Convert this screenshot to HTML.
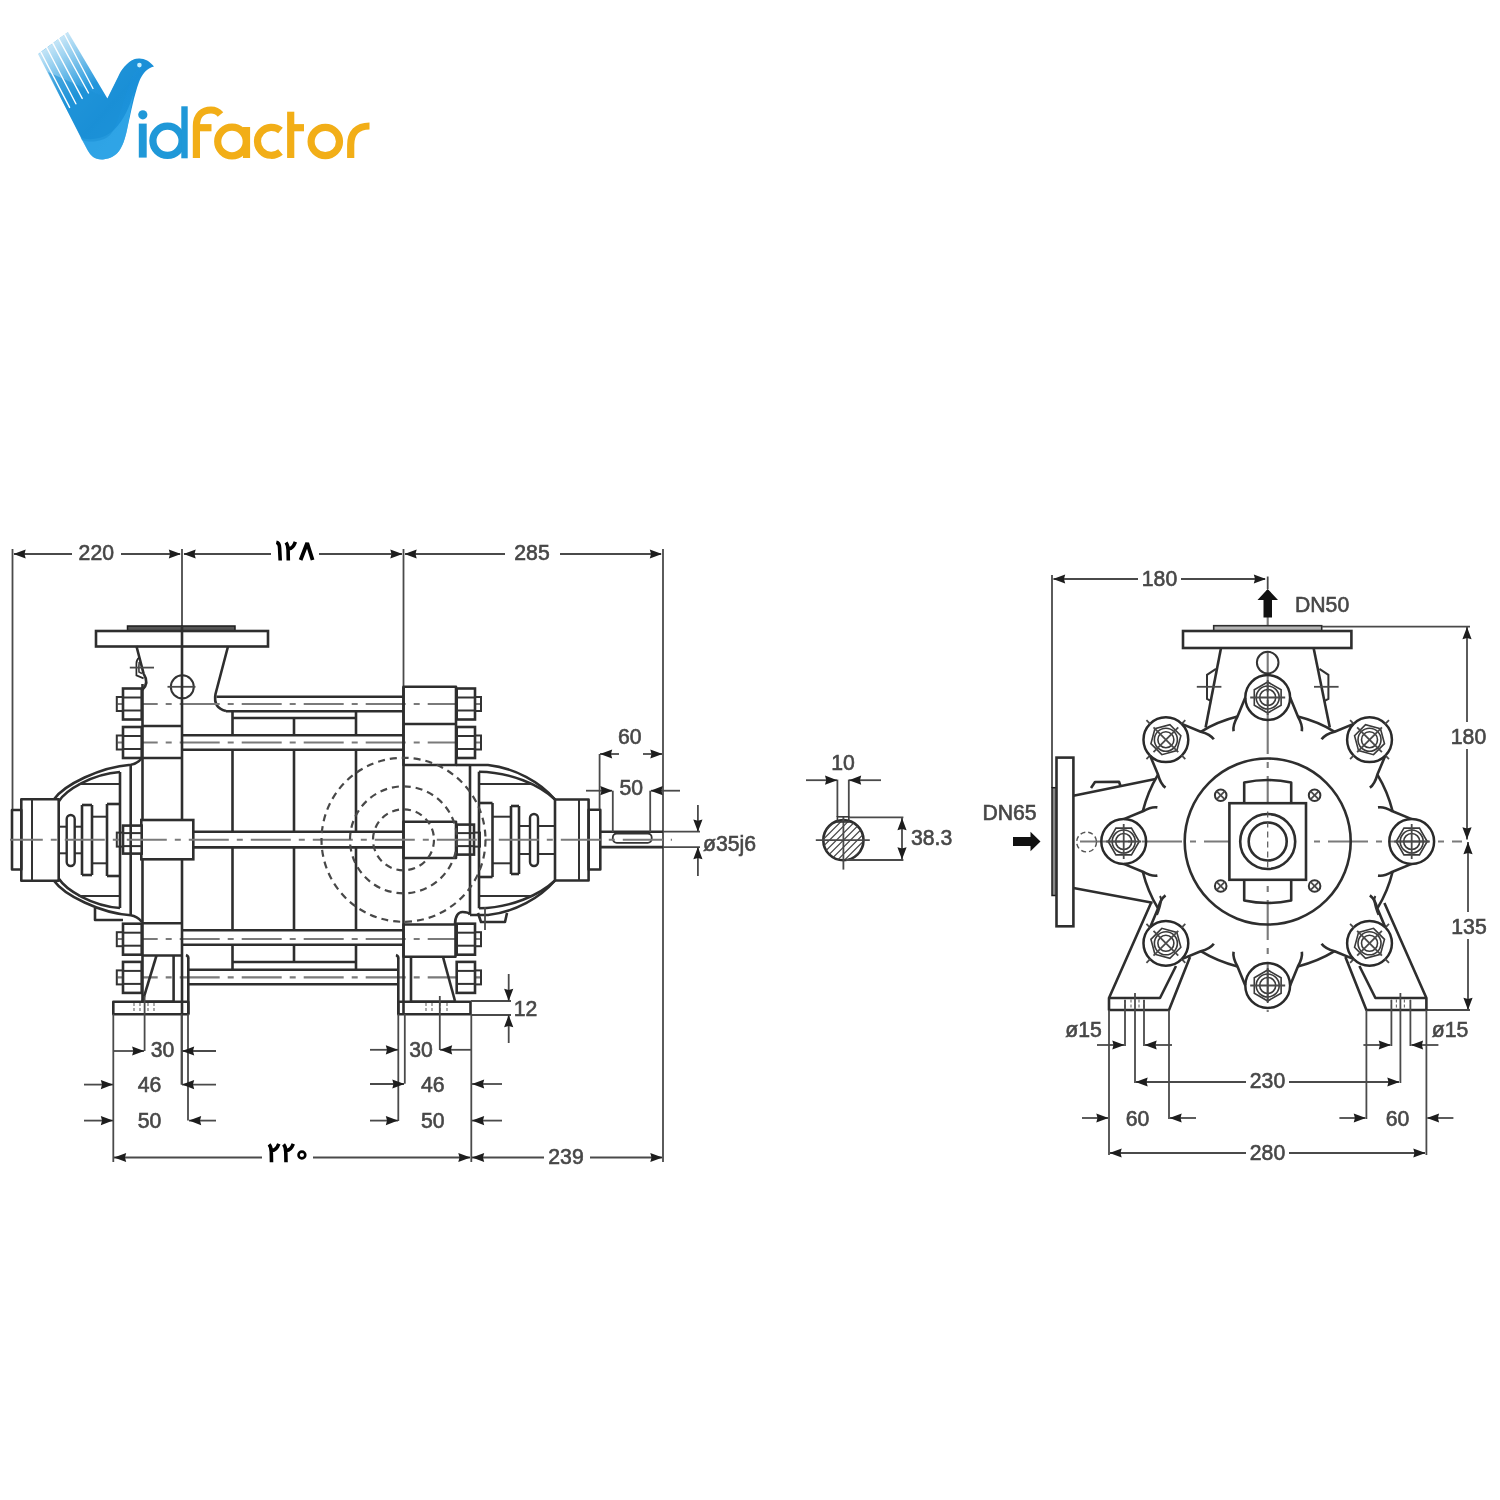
<!DOCTYPE html><html><head><meta charset="utf-8"><title>pump</title><style>
html,body{margin:0;padding:0;background:#fff;}
svg{display:block;will-change:transform}
.o{fill:none;stroke:#2e2e2e;stroke-width:2.6;stroke-linejoin:round}
.of{fill:#fff;stroke:#2e2e2e;stroke-width:2.6}
.o1{fill:none;stroke:#333;stroke-width:2.0}
.ob{fill:none;stroke:#2a2a2a;stroke-width:2.5}
.o2{fill:none;stroke:#2a2a2a;stroke-width:1.7}
.o3{fill:none;stroke:#3a3a3a;stroke-width:1.6}
.orr{fill:none;stroke:#2e2e2e;stroke-width:2.4;rx:4}
.orr2{fill:none;stroke:#333;stroke-width:1.8;rx:4}
.t{fill:none;stroke:#4a4a4a;stroke-width:1.8}
.c{fill:none;stroke:#7a7a7a;stroke-width:2.1;stroke-dasharray:40 8 6 8}
.c2{fill:none;stroke:#555;stroke-width:1.2;stroke-dasharray:6 4}
.h{fill:none;stroke:#484848;stroke-width:2.2;stroke-dasharray:7 5}
.h2{fill:none;stroke:#555;stroke-width:1.4;stroke-dasharray:5 3}
.hs{fill:none;stroke:#666;stroke-width:1.1;stroke-dasharray:3 2}
.hat{fill:none;stroke:#444;stroke-width:1.2}
.ar{fill:#1d1d1d;stroke:none}
.fill{fill:#555;stroke:#1d1d1d;stroke-width:1.5}
.fill3{fill:#b5b5b5;stroke:#2e2e2e;stroke-width:1.6}
.fill2{fill:#888;stroke:#1d1d1d;stroke-width:1.5}
.fillb{fill:#111;stroke:none}
.pers{fill:none;stroke:#000;stroke-width:3.6;stroke-linecap:butt;stroke-linejoin:miter}
.tx{font-family:"Liberation Sans",sans-serif;font-size:21.2px;fill:#474747;stroke:#474747;stroke-width:0.6}
</style></head><body><svg width="1500" height="1500" viewBox="0 0 1500 1500">
<line class="t" x1="12.5" y1="549" x2="12.5" y2="810"/>
<line class="t" x1="182" y1="549" x2="182" y2="626"/>
<line class="t" x1="403.5" y1="549" x2="403.5" y2="686.7"/>
<line class="t" x1="663" y1="549" x2="663" y2="1162"/>
<line class="t" x1="14" y1="554" x2="72" y2="554"/>
<line class="t" x1="121" y1="554" x2="180" y2="554"/>
<polygon class="ar" points="13.5,554 25.7,549.4 24.48,554 25.7,558.6"/>
<polygon class="ar" points="181,554 168.8,549.4 170.02,554 168.8,558.6"/>
<text class="tx" x="96.3" y="559.8" text-anchor="middle">220</text>
<line class="t" x1="184" y1="554" x2="271" y2="554"/>
<line class="t" x1="319" y1="554" x2="402" y2="554"/>
<polygon class="ar" points="183.5,554 195.7,549.4 194.48,554 195.7,558.6"/>
<polygon class="ar" points="402.5,554 390.3,549.4 391.52,554 390.3,558.6"/>
<line class="t" x1="405" y1="554" x2="505" y2="554"/>
<line class="t" x1="560" y1="554" x2="661" y2="554"/>
<polygon class="ar" points="404.5,554 416.7,549.4 415.48,554 416.7,558.6"/>
<polygon class="ar" points="662,554 649.8,549.4 651.02,554 649.8,558.6"/>
<text class="tx" x="532" y="559.8" text-anchor="middle">285</text>
<rect class="fill" x="127.5" y="626" width="107.5" height="5"/>
<rect class="of" x="96" y="631" width="172" height="15.5"/>
<path class="o" d="M136.4,646 L143.6,673.6 Q149.5,683 142.4,689.8"/>
<path class="o" d="M228,646.5 L215.5,694 Q213,708 226,711"/>
<path class="o2" d="M139.4,657.4 Q136.3,659.5 136.4,663.5 L136.4,675.4 L143.6,678.4"/>
<path class="o3" d="M139.2,662 Q138.6,667 139,672 L142,673.5"/>
<line class="t" x1="129.8" y1="667.6" x2="154" y2="667.6"/>
<circle class="o1" cx="182.3" cy="686.8" r="11.5"/>
<line class="t" x1="167.5" y1="686.8" x2="195.5" y2="686.8"/>
<line class="o" x1="216.5" y1="696.8" x2="403.5" y2="696.8"/>
<line class="o" x1="226" y1="711.2" x2="403.5" y2="711.2"/>
<line class="o" x1="182" y1="735.3" x2="403.5" y2="735.3"/>
<line class="o" x1="182" y1="749.7" x2="403.5" y2="749.7"/>
<line class="o" x1="193.3" y1="831.8" x2="403.5" y2="831.8"/>
<line class="o" x1="193.3" y1="847.4" x2="403.5" y2="847.4"/>
<line class="o" x1="182" y1="930.3" x2="403.5" y2="930.3"/>
<line class="o" x1="182" y1="944.7" x2="403.5" y2="944.7"/>
<line class="o" x1="188" y1="969.8" x2="397" y2="969.8"/>
<line class="o" x1="188" y1="984.2" x2="397" y2="984.2"/>
<line class="c" x1="112" y1="704" x2="489" y2="704" stroke-dashoffset="56.3"/>
<line class="c" x1="112" y1="742.5" x2="489" y2="742.5" stroke-dashoffset="56.3"/>
<line class="c" x1="112" y1="939" x2="489" y2="939" stroke-dashoffset="56.3"/>
<line class="c" x1="112" y1="977.4" x2="489" y2="977.4" stroke-dashoffset="56.3"/>
<line class="o" x1="232.5" y1="711.2" x2="232.5" y2="735.3"/>
<line class="o" x1="232.5" y1="749.7" x2="232.5" y2="831.8"/>
<line class="o" x1="232.5" y1="847.4" x2="232.5" y2="930.3"/>
<line class="o" x1="232.5" y1="944.7" x2="232.5" y2="969.8"/>
<line class="o" x1="356" y1="711.2" x2="356" y2="735.3"/>
<line class="o" x1="356" y1="749.7" x2="356" y2="831.8"/>
<line class="o" x1="356" y1="847.4" x2="356" y2="930.3"/>
<line class="o" x1="356" y1="944.7" x2="356" y2="969.8"/>
<line class="o" x1="294" y1="718" x2="294" y2="735.3"/>
<line class="o" x1="294" y1="749.7" x2="294" y2="831.8"/>
<line class="o" x1="294" y1="847.4" x2="294" y2="930.3"/>
<line class="o" x1="294" y1="944.7" x2="294" y2="962"/>
<line class="o" x1="232.5" y1="718" x2="356" y2="718"/>
<line class="o" x1="232.5" y1="962" x2="356" y2="962"/>
<line class="o" x1="142.5" y1="684" x2="142.5" y2="1001.7"/>
<line class="o" x1="182" y1="626" x2="182" y2="1014.2"/>
<line class="t" x1="182" y1="1014.2" x2="182" y2="1084.6"/>
<line class="o" x1="403.5" y1="686.7" x2="403.5" y2="1014.2"/>
<line class="o" x1="142.5" y1="726" x2="182" y2="726"/>
<line class="o" x1="142.5" y1="758" x2="182" y2="758"/>
<line class="o" x1="142.5" y1="923.2" x2="182" y2="923.2"/>
<line class="o" x1="142.5" y1="955.5" x2="182" y2="955.5"/>
<rect class="of" x="141.3" y="820" width="52" height="39.3"/>
<rect class="of" x="123" y="688.5" width="18.7" height="31"/>
<line class="o1" x1="123" y1="697.5" x2="141.7" y2="697.5"/>
<line class="o1" x1="123" y1="710.5" x2="141.7" y2="710.5"/>
<rect class="o1" x="116.8" y="697" width="6.2" height="14"/>
<rect class="of" x="123" y="727" width="18.7" height="31"/>
<line class="o1" x1="123" y1="736" x2="141.7" y2="736"/>
<line class="o1" x1="123" y1="749" x2="141.7" y2="749"/>
<rect class="o1" x="116.8" y="735.5" width="6.2" height="14"/>
<rect class="of" x="123" y="923.7" width="18.7" height="31"/>
<line class="o1" x1="123" y1="932.7" x2="141.7" y2="932.7"/>
<line class="o1" x1="123" y1="945.7" x2="141.7" y2="945.7"/>
<rect class="o1" x="116.8" y="932.2" width="6.2" height="14"/>
<rect class="of" x="123" y="961.9" width="18.7" height="31"/>
<line class="o1" x1="123" y1="970.9" x2="141.7" y2="970.9"/>
<line class="o1" x1="123" y1="983.9" x2="141.7" y2="983.9"/>
<rect class="o1" x="116.8" y="970.4" width="6.2" height="14"/>
<rect class="of" x="123" y="825.6" width="18.7" height="28"/>
<line class="o1" x1="123" y1="833.1" x2="141.7" y2="833.1"/>
<line class="o1" x1="123" y1="846.1" x2="141.7" y2="846.1"/>
<rect class="o1" x="116.8" y="832.6" width="6.2" height="14"/>
<path class="o" d="M54,799.3 C64,785 100,767 130.7,764.7 Q137,764 142,758"/>
<path class="o" d="M58.7,801.5 C66,790 92,774 120,772"/>
<line class="o1" x1="78.7" y1="784" x2="120" y2="784"/>
<line class="o" x1="82" y1="805" x2="92" y2="805"/>
<line class="o" x1="107" y1="804" x2="120" y2="804"/>
<line class="o1" x1="92" y1="816.7" x2="107" y2="816.7"/>
<line class="o1" x1="58.7" y1="826.7" x2="67" y2="826.7"/>
<line class="o1" x1="74.5" y1="826.7" x2="82" y2="826.7"/>
<path class="o" d="M54,880.7 C64,895 100,913 130.7,915.3 Q137,916 142,922"/>
<path class="o" d="M58.7,878.5 C66,890 92,906 120,908"/>
<line class="o1" x1="78.7" y1="896" x2="120" y2="896"/>
<line class="o" x1="82" y1="875" x2="92" y2="875"/>
<line class="o" x1="107" y1="876" x2="120" y2="876"/>
<line class="o1" x1="92" y1="863.3" x2="107" y2="863.3"/>
<line class="o1" x1="58.7" y1="853.3" x2="67" y2="853.3"/>
<line class="o1" x1="74.5" y1="853.3" x2="82" y2="853.3"/>
<line class="o" x1="120" y1="772" x2="120" y2="908"/>
<line class="o" x1="130.7" y1="764.7" x2="130.7" y2="915.3"/>
<rect class="o" x="21.3" y="799.3" width="37.4" height="81.4"/>
<line class="o1" x1="32" y1="799.3" x2="32" y2="880.7"/>
<rect class="o" x="12" y="810" width="9.3" height="59.5"/>
<rect class="orr" x="66.7" y="815" width="8" height="51"/>
<line class="o" x1="82" y1="805" x2="82" y2="875"/>
<line class="o" x1="92" y1="805" x2="92" y2="875"/>
<line class="o" x1="107" y1="804" x2="107" y2="876"/>
<path class="o" d="M95,908 L95,920 L123,920"/>
<rect class="o" x="403.5" y="686.7" width="52.5" height="78.3"/>
<line class="o" x1="403.5" y1="724" x2="456" y2="724"/>
<line class="o" x1="456" y1="765" x2="470" y2="765"/>
<rect class="o" x="403.5" y="821.7" width="52.5" height="36.3"/>
<rect class="o" x="403.5" y="924.5" width="52" height="32.2"/>
<path class="o" d="M455,924.5 C455,916 458.5,912 462.5,912 C466.5,912 469,913 470,914.5"/>
<rect class="of" x="456.7" y="688.5" width="18.3" height="31"/>
<line class="o1" x1="456.7" y1="697.5" x2="475" y2="697.5"/>
<line class="o1" x1="456.7" y1="710.5" x2="475" y2="710.5"/>
<rect class="o1" x="475" y="697" width="6" height="14"/>
<rect class="of" x="456.7" y="727" width="18.3" height="31"/>
<line class="o1" x1="456.7" y1="736" x2="475" y2="736"/>
<line class="o1" x1="456.7" y1="749" x2="475" y2="749"/>
<rect class="o1" x="475" y="735.5" width="6" height="14"/>
<rect class="of" x="456.7" y="923.7" width="18.3" height="31"/>
<line class="o1" x1="456.7" y1="932.7" x2="475" y2="932.7"/>
<line class="o1" x1="456.7" y1="945.7" x2="475" y2="945.7"/>
<rect class="o1" x="475" y="932.2" width="6" height="14"/>
<rect class="of" x="456.7" y="961.9" width="18.3" height="31"/>
<line class="o1" x1="456.7" y1="970.9" x2="475" y2="970.9"/>
<line class="o1" x1="456.7" y1="983.9" x2="475" y2="983.9"/>
<rect class="o1" x="475" y="970.4" width="6" height="14"/>
<rect class="of" x="456.7" y="824.6" width="17.3" height="30"/>
<line class="o1" x1="456.7" y1="833.1" x2="474" y2="833.1"/>
<line class="o1" x1="456.7" y1="846.1" x2="474" y2="846.1"/>
<rect class="o1" x="474" y="832.6" width="6" height="14"/>
<path class="o" d="M470,765 L488,765 C515,768 540,782 555,799.5"/>
<path class="o" d="M479,771.7 C510,772 540,785 555,799.5"/>
<line class="o1" x1="479" y1="784" x2="533" y2="784"/>
<line class="o" x1="479" y1="803" x2="492.5" y2="803"/>
<line class="o" x1="511" y1="806" x2="519" y2="806"/>
<line class="o1" x1="492.5" y1="816.7" x2="511" y2="816.7"/>
<line class="o1" x1="519" y1="826" x2="530" y2="826"/>
<line class="o1" x1="538" y1="826" x2="555" y2="826"/>
<path class="o" d="M470,915 L488,915 C515,912 540,898 555,880.5"/>
<path class="o" d="M479,908.3 C510,908 540,895 555,880.5"/>
<line class="o1" x1="479" y1="896" x2="533" y2="896"/>
<line class="o" x1="479" y1="877" x2="492.5" y2="877"/>
<line class="o" x1="511" y1="874" x2="519" y2="874"/>
<line class="o1" x1="492.5" y1="863.3" x2="511" y2="863.3"/>
<line class="o1" x1="519" y1="854" x2="530" y2="854"/>
<line class="o1" x1="538" y1="854" x2="555" y2="854"/>
<line class="o" x1="470" y1="765" x2="470" y2="914.5"/>
<line class="o" x1="479" y1="771.7" x2="479" y2="908.3"/>
<line class="o" x1="492.5" y1="803" x2="492.5" y2="877"/>
<line class="o" x1="511" y1="806" x2="511" y2="874"/>
<line class="o" x1="519" y1="806" x2="519" y2="874"/>
<rect class="orr" x="530" y="814" width="8" height="52"/>
<rect class="o" x="555" y="799.5" width="33.6" height="81"/>
<line class="o1" x1="579" y1="799.5" x2="579" y2="880.5"/>
<rect class="o" x="588.6" y="809.7" width="11.7" height="59.8"/>
<path class="o" d="M478,913 L481,922 L505,922 L507,913"/>
<line class="t" x1="485" y1="907" x2="485" y2="930"/>
<line class="o" x1="600.3" y1="831.7" x2="663" y2="831.7"/>
<line class="o" x1="600.3" y1="847.1" x2="663" y2="847.1"/>
<line class="t" x1="663" y1="831.7" x2="700" y2="831.7"/>
<line class="t" x1="663" y1="847.1" x2="700" y2="847.1"/>
<rect class="orr2" x="612.8" y="833.5" width="38.9" height="9.3"/>
<line class="c" x1="10" y1="839.8" x2="672" y2="839.8" stroke-dashoffset="7.2"/>
<circle class="h" cx="403.5" cy="839.8" r="82"/>
<circle class="h" cx="403.5" cy="839.8" r="53.5"/>
<circle class="h" cx="403.5" cy="839.8" r="30.5"/>
<rect class="o" x="113.3" y="1001.7" width="75" height="12.5"/>
<path class="o" d="M156.5,955.5 L142.5,1001.7"/>
<line class="o" x1="173.6" y1="955.5" x2="173.6" y2="1001.7"/>
<line class="o" x1="142.5" y1="1001.7" x2="173.6" y2="1001.7"/>
<path class="o" d="M186,955 Q189,956 188.3,960 L188.3,1014.2"/>
<line class="hs" x1="134" y1="1003" x2="134" y2="1013"/>
<line class="hs" x1="140" y1="1003" x2="140" y2="1013"/>
<line class="hs" x1="148" y1="1003" x2="148" y2="1013"/>
<line class="hs" x1="154" y1="1003" x2="154" y2="1013"/>
<rect class="o" x="398.3" y="1001.7" width="72.2" height="12.5"/>
<line class="o" x1="411" y1="957" x2="411" y2="1001.7"/>
<line class="o" x1="411" y1="1001.7" x2="455" y2="1001.7"/>
<path class="o" d="M443,957 L455,1001"/>
<path class="o" d="M396,955 Q399,956 398.3,960 L398.3,1014.2"/>
<line class="hs" x1="426" y1="1003" x2="426" y2="1013"/>
<line class="hs" x1="432" y1="1003" x2="432" y2="1013"/>
<line class="hs" x1="440" y1="1003" x2="440" y2="1013"/>
<line class="hs" x1="447" y1="1003" x2="447" y2="1013"/>
<line class="t" x1="113.3" y1="1014" x2="113.3" y2="1162"/>
<line class="t" x1="144.6" y1="996" x2="144.6" y2="1051"/>
<line class="t" x1="181.5" y1="1014" x2="181.5" y2="1084.6"/>
<line class="t" x1="188" y1="1014" x2="188" y2="1120.6"/>
<line class="t" x1="114" y1="1051" x2="144" y2="1051"/>
<polygon class="ar" points="144.3,1051 132.1,1046.4 133.32,1051 132.1,1055.6"/>
<line class="t" x1="182" y1="1051" x2="216" y2="1051"/>
<polygon class="ar" points="182,1051 194.2,1046.4 192.98,1051 194.2,1055.6"/>
<text class="tx" x="162.5" y="1057.2" text-anchor="middle">30</text>
<line class="t" x1="84" y1="1084.6" x2="113" y2="1084.6"/>
<polygon class="ar" points="113,1084.6 100.8,1080 102.02,1084.6 100.8,1089.2"/>
<line class="t" x1="182" y1="1084.6" x2="216" y2="1084.6"/>
<polygon class="ar" points="182,1084.6 194.2,1080 192.98,1084.6 194.2,1089.2"/>
<text class="tx" x="149.5" y="1092" text-anchor="middle">46</text>
<line class="t" x1="84" y1="1120.6" x2="113" y2="1120.6"/>
<polygon class="ar" points="113,1120.6 100.8,1116 102.02,1120.6 100.8,1125.2"/>
<line class="t" x1="189" y1="1120.6" x2="216" y2="1120.6"/>
<polygon class="ar" points="189,1120.6 201.2,1116 199.98,1120.6 201.2,1125.2"/>
<text class="tx" x="149.5" y="1128" text-anchor="middle">50</text>
<line class="t" x1="114" y1="1157.5" x2="262" y2="1157.5"/>
<line class="t" x1="313" y1="1157.5" x2="470" y2="1157.5"/>
<polygon class="ar" points="114,1157.5 126.2,1152.9 124.98,1157.5 126.2,1162.1"/>
<polygon class="ar" points="470.5,1157.5 458.3,1152.9 459.52,1157.5 458.3,1162.1"/>
<line class="t" x1="472" y1="1157.5" x2="544" y2="1157.5"/>
<line class="t" x1="590" y1="1157.5" x2="662" y2="1157.5"/>
<polygon class="ar" points="472,1157.5 484.2,1152.9 482.98,1157.5 484.2,1162.1"/>
<polygon class="ar" points="662.5,1157.5 650.3,1152.9 651.52,1157.5 650.3,1162.1"/>
<text class="tx" x="566" y="1164" text-anchor="middle">239</text>
<line class="t" x1="398.3" y1="1014" x2="398.3" y2="1121"/>
<line class="t" x1="404.8" y1="1014" x2="404.8" y2="1083.7"/>
<line class="t" x1="439.8" y1="996" x2="439.8" y2="1050"/>
<line class="t" x1="471.3" y1="1014" x2="471.3" y2="1162"/>
<line class="t" x1="370" y1="1049.8" x2="398" y2="1049.8"/>
<polygon class="ar" points="398,1049.8 385.8,1045.2 387.02,1049.8 385.8,1054.4"/>
<line class="t" x1="440" y1="1049.8" x2="471" y2="1049.8"/>
<polygon class="ar" points="440,1049.8 452.2,1045.2 450.98,1049.8 452.2,1054.4"/>
<text class="tx" x="421" y="1056.8" text-anchor="middle">30</text>
<line class="t" x1="370" y1="1084" x2="404" y2="1084"/>
<polygon class="ar" points="404.5,1084 392.3,1079.4 393.52,1084 392.3,1088.6"/>
<line class="t" x1="472" y1="1084" x2="502" y2="1084"/>
<polygon class="ar" points="472,1084 484.2,1079.4 482.98,1084 484.2,1088.6"/>
<text class="tx" x="432.7" y="1092" text-anchor="middle">46</text>
<line class="t" x1="370" y1="1120.6" x2="398" y2="1120.6"/>
<polygon class="ar" points="398,1120.6 385.8,1116 387.02,1120.6 385.8,1125.2"/>
<line class="t" x1="472" y1="1120.6" x2="502" y2="1120.6"/>
<polygon class="ar" points="472,1120.6 484.2,1116 482.98,1120.6 484.2,1125.2"/>
<text class="tx" x="432.7" y="1128" text-anchor="middle">50</text>
<line class="t" x1="471" y1="1001" x2="511" y2="1001"/>
<line class="t" x1="471" y1="1015" x2="511" y2="1015"/>
<line class="t" x1="508.7" y1="974" x2="508.7" y2="1001"/>
<polygon class="ar" points="508.7,1001 504.1,988.8 508.7,990.02 513.3,988.8"/>
<line class="t" x1="508.7" y1="1015" x2="508.7" y2="1043"/>
<polygon class="ar" points="508.7,1015 504.1,1027.2 508.7,1025.98 513.3,1027.2"/>
<text class="tx" x="525.5" y="1016" text-anchor="middle">12</text>
<line class="t" x1="599.6" y1="754" x2="599.6" y2="809"/>
<line class="t" x1="612.8" y1="790.7" x2="612.8" y2="832"/>
<line class="t" x1="650.2" y1="790.7" x2="650.2" y2="832"/>
<line class="t" x1="600" y1="754" x2="619" y2="754"/>
<polygon class="ar" points="600,754 612.2,749.4 610.98,754 612.2,758.6"/>
<line class="t" x1="643" y1="754" x2="662" y2="754"/>
<polygon class="ar" points="662.5,754 650.3,749.4 651.52,754 650.3,758.6"/>
<text class="tx" x="629.7" y="743.7" text-anchor="middle">60</text>
<line class="t" x1="586" y1="790.7" x2="612" y2="790.7"/>
<polygon class="ar" points="612.5,790.7 600.3,786.1 601.52,790.7 600.3,795.3"/>
<line class="t" x1="651" y1="790.7" x2="680" y2="790.7"/>
<polygon class="ar" points="650.5,790.7 662.7,786.1 661.48,790.7 662.7,795.3"/>
<text class="tx" x="631.3" y="794.5" text-anchor="middle">50</text>
<line class="t" x1="697.9" y1="805" x2="697.9" y2="831.7"/>
<polygon class="ar" points="697.9,831.7 693.3,819.5 697.9,820.72 702.5,819.5"/>
<line class="t" x1="697.9" y1="847.1" x2="697.9" y2="876"/>
<polygon class="ar" points="697.9,847.1 693.3,859.3 697.9,858.08 702.5,859.3"/>
<text class="tx" x="703" y="851" text-anchor="start">ø35j6</text>
<circle class="o" cx="843.4" cy="840.2" r="20.1"/>
<clipPath id="kc"><circle cx="843.4" cy="840.2" r="20"/></clipPath>
<path class="hat" clip-path="url(#kc)" d="M783.4,865.2 L833.4,815.2 M790.4,865.2 L840.4,815.2 M797.4,865.2 L847.4,815.2 M804.4,865.2 L854.4,815.2 M811.4,865.2 L861.4,815.2 M818.4,865.2 L868.4,815.2 M825.4,865.2 L875.4,815.2 M832.4,865.2 L882.4,815.2 M839.4,865.2 L889.4,815.2 M846.4,865.2 L896.4,815.2 M853.4,865.2 L903.4,815.2"/>
<line class="t" x1="815.8" y1="840.2" x2="869.8" y2="840.2"/>
<line class="t" x1="843.4" y1="816.8" x2="843.4" y2="869.6"/>
<line class="t" x1="837.4" y1="779.6" x2="837.4" y2="817"/>
<line class="t" x1="848.8" y1="779.6" x2="848.8" y2="817"/>
<rect class="o3" x="837.4" y="816.8" width="11.4" height="5.2"/>
<line class="t" x1="806" y1="780.2" x2="837" y2="780.2"/>
<polygon class="ar" points="837.2,780.2 825,775.6 826.22,780.2 825,784.8"/>
<line class="t" x1="849" y1="780.2" x2="881" y2="780.2"/>
<polygon class="ar" points="849,780.2 861.2,775.6 859.98,780.2 861.2,784.8"/>
<text class="tx" x="843" y="770" text-anchor="middle">10</text>
<line class="t" x1="849" y1="817.4" x2="903.4" y2="817.4"/>
<line class="t" x1="846" y1="860" x2="903.4" y2="860"/>
<line class="t" x1="902" y1="818" x2="902" y2="860"/>
<polygon class="ar" points="902,818 897.4,830.2 902,828.98 906.6,830.2"/>
<polygon class="ar" points="902,859.5 897.4,847.3 902,848.52 906.6,847.3"/>
<text class="tx" x="911" y="845" text-anchor="start">38.3</text>
<line class="c" x1="1080" y1="841.5" x2="1462" y2="841.5"/>
<line class="c" x1="1267.7" y1="590" x2="1267.7" y2="1012"/>
<rect class="fill3" x="1213.7" y="625.7" width="108" height="5.3"/>
<line class="t" x1="1267.7" y1="576.5" x2="1267.7" y2="589"/>
<rect class="of" x="1183" y="631" width="168.4" height="17"/>
<line class="o" x1="1221" y1="648" x2="1205.6" y2="727.4"/>
<line class="o" x1="1313.6" y1="648" x2="1329.8" y2="727.4"/>
<circle class="o1" cx="1267.7" cy="662.6" r="10.8"/>
<path class="o1" d="M1216,668.8 L1207,674.8 L1207,698.8 L1211.2,701.2"/>
<line class="t" x1="1196.8" y1="686.8" x2="1221.4" y2="686.8"/>
<path class="o1" d="M1319.4,668.8 L1328.4,674.8 L1328.4,698.8 L1324.2,701.2"/>
<line class="t" x1="1338.6" y1="686.8" x2="1314" y2="686.8"/>
<polygon class="fillb" points="1267.7,589 1257.5,600 1263.5,600 1263.5,617.5 1272,617.5 1272,600 1278,600"/>
<text class="tx" x="1295" y="612" text-anchor="start">DN50</text>
<line class="t" x1="1052" y1="575" x2="1052" y2="787.7"/>
<line class="t" x1="1053.5" y1="579" x2="1138" y2="579"/>
<line class="t" x1="1181" y1="579" x2="1265" y2="579"/>
<polygon class="ar" points="1053,579 1065.2,574.4 1063.98,579 1065.2,583.6"/>
<polygon class="ar" points="1266,579 1253.8,574.4 1255.02,579 1253.8,583.6"/>
<text class="tx" x="1159.5" y="585.8" text-anchor="middle">180</text>
<line class="t" x1="1322" y1="626.6" x2="1470" y2="626.6"/>
<line class="t" x1="1467" y1="627" x2="1467" y2="722"/>
<line class="t" x1="1467" y1="749" x2="1467" y2="839.5"/>
<polygon class="ar" points="1467,627 1462.4,639.2 1467,637.98 1471.6,639.2"/>
<polygon class="ar" points="1467,839.5 1462.4,827.3 1467,828.52 1471.6,827.3"/>
<text class="tx" x="1468.5" y="743.5" text-anchor="middle">180</text>
<line class="t" x1="1468" y1="842" x2="1468" y2="912"/>
<line class="t" x1="1468" y1="939" x2="1468" y2="1010"/>
<polygon class="ar" points="1468,842 1463.4,854.2 1468,852.98 1472.6,854.2"/>
<polygon class="ar" points="1468,1010 1463.4,997.8 1468,999.02 1472.6,997.8"/>
<text class="tx" x="1469" y="933.5" text-anchor="middle">135</text>
<line class="t" x1="1426" y1="1010" x2="1470" y2="1010"/>
<rect class="fill2" x="1052" y="787.7" width="5" height="107.8"/>
<rect class="of" x="1056.5" y="757.6" width="16.9" height="168.7"/>
<line class="o" x1="1073.4" y1="795.7" x2="1155.5" y2="778.9"/>
<line class="o" x1="1073.4" y1="888" x2="1152.6" y2="902.8"/>
<path class="o" d="M1091,787.9 L1095,782 L1119,781.7 L1120.5,786"/>
<circle class="h2" cx="1086.6" cy="842" r="9.9"/>
<text class="tx" x="1009.5" y="820" text-anchor="middle">DN65</text>
<polygon class="fillb" points="1040.5,841.4 1030.5,831.7 1030.5,837 1013,837 1013,846 1030.5,846 1030.5,851.2"/>
<circle class="o" cx="1267.7" cy="841.5" r="83"/>
<rect class="of" x="1229.4" y="803.2" width="76.6" height="76.6"/>
<circle class="o" cx="1267.7" cy="841.5" r="27.5"/>
<circle class="o" cx="1267.7" cy="841.5" r="19"/>
<path class="o" d="M1244.2,803.2 L1244.2,782.5 Q1267.7,777.5 1291.2,782.5 L1291.2,803.2"/>
<path class="o" d="M1244.2,879.8 L1244.2,900.5 Q1267.7,905.5 1291.2,900.5 L1291.2,879.8"/>
<circle class="o1" cx="1220.7" cy="795.3" r="5.8"/>
<line class="t" x1="1216.6" y1="791.2" x2="1224.8" y2="799.4"/>
<line class="t" x1="1216.6" y1="799.4" x2="1224.8" y2="791.2"/>
<circle class="o1" cx="1314.6" cy="795.3" r="5.8"/>
<line class="t" x1="1310.5" y1="791.2" x2="1318.7" y2="799.4"/>
<line class="t" x1="1310.5" y1="799.4" x2="1318.7" y2="791.2"/>
<circle class="o1" cx="1220.7" cy="886" r="5.8"/>
<line class="t" x1="1216.6" y1="881.9" x2="1224.8" y2="890.1"/>
<line class="t" x1="1216.6" y1="890.1" x2="1224.8" y2="881.9"/>
<circle class="o1" cx="1314.6" cy="886" r="5.8"/>
<line class="t" x1="1310.5" y1="881.9" x2="1318.7" y2="890.1"/>
<line class="t" x1="1310.5" y1="890.1" x2="1318.7" y2="881.9"/>
<line class="c2" x1="1267.7" y1="811.5" x2="1267.7" y2="871.5"/>
<circle class="ob" cx="1411.7" cy="841.5" r="22.4"/>
<polygon class="o3" points="1427.2,841.5 1419.45,828.08 1403.95,828.08 1396.2,841.5 1403.95,854.92 1419.45,854.92"/>
<circle class="o3" cx="1411.7" cy="841.5" r="11.5"/>
<circle class="o3" cx="1411.7" cy="841.5" r="8"/>
<line class="t" x1="1429.2" y1="841.5" x2="1394.2" y2="841.5"/>
<line class="t" x1="1411.7" y1="824" x2="1411.7" y2="859"/>
<path class="o" d="M1411.7,819.1 L1392.6,811.28 Q1384.01,806.38 1378.03,807.35"/>
<path class="o" d="M1411.7,863.9 L1392.6,871.72 Q1384.01,876.62 1378.03,875.65"/>
<circle class="ob" cx="1369.52" cy="739.68" r="22.4"/>
<polygon class="o3" points="1380.48,728.72 1365.51,724.7 1354.55,735.66 1358.56,750.64 1373.54,754.65 1384.5,743.69"/>
<circle class="o3" cx="1369.52" cy="739.68" r="11.5"/>
<circle class="o3" cx="1369.52" cy="739.68" r="8"/>
<line class="t" x1="1381.9" y1="727.3" x2="1357.15" y2="752.05"/>
<line class="t" x1="1385.08" y1="724.12" x2="1388.97" y2="720.23"/>
<line class="t" x1="1353.97" y1="755.23" x2="1350.08" y2="759.12"/>
<line class="t" x1="1357.15" y1="727.3" x2="1381.9" y2="752.05"/>
<line class="t" x1="1353.97" y1="724.12" x2="1350.08" y2="720.23"/>
<line class="t" x1="1385.08" y1="755.23" x2="1388.97" y2="759.12"/>
<path class="o" d="M1353.68,723.84 L1334.65,731.82 Q1325.11,734.42 1321.57,739.33"/>
<path class="o" d="M1385.36,755.52 L1377.38,774.55 Q1374.78,784.09 1369.87,787.63"/>
<circle class="ob" cx="1267.7" cy="697.5" r="22.4"/>
<polygon class="o3" points="1267.7,682 1254.28,689.75 1254.28,705.25 1267.7,713 1281.12,705.25 1281.12,689.75"/>
<circle class="o3" cx="1267.7" cy="697.5" r="11.5"/>
<circle class="o3" cx="1267.7" cy="697.5" r="8"/>
<line class="t" x1="1267.7" y1="680" x2="1267.7" y2="715"/>
<line class="t" x1="1250.2" y1="697.5" x2="1285.2" y2="697.5"/>
<path class="o" d="M1245.3,697.5 L1237.48,716.6 Q1232.58,725.19 1233.55,731.17"/>
<path class="o" d="M1290.1,697.5 L1297.92,716.6 Q1302.82,725.19 1301.85,731.17"/>
<circle class="ob" cx="1165.88" cy="739.68" r="22.4"/>
<polygon class="o3" points="1154.92,728.72 1150.9,743.69 1161.86,754.65 1176.84,750.64 1180.85,735.66 1169.89,724.7"/>
<circle class="o3" cx="1165.88" cy="739.68" r="11.5"/>
<circle class="o3" cx="1165.88" cy="739.68" r="8"/>
<line class="t" x1="1153.5" y1="727.3" x2="1178.25" y2="752.05"/>
<line class="t" x1="1150.32" y1="724.12" x2="1146.43" y2="720.23"/>
<line class="t" x1="1181.43" y1="755.23" x2="1185.32" y2="759.12"/>
<line class="t" x1="1153.5" y1="752.05" x2="1178.25" y2="727.3"/>
<line class="t" x1="1150.32" y1="755.23" x2="1146.43" y2="759.12"/>
<line class="t" x1="1181.43" y1="724.12" x2="1185.32" y2="720.23"/>
<path class="o" d="M1150.04,755.52 L1158.02,774.55 Q1160.62,784.09 1165.53,787.63"/>
<path class="o" d="M1181.72,723.84 L1200.75,731.82 Q1210.29,734.42 1213.83,739.33"/>
<circle class="ob" cx="1123.7" cy="841.5" r="22.4"/>
<polygon class="o3" points="1108.2,841.5 1115.95,854.92 1131.45,854.92 1139.2,841.5 1131.45,828.08 1115.95,828.08"/>
<circle class="o3" cx="1123.7" cy="841.5" r="11.5"/>
<circle class="o3" cx="1123.7" cy="841.5" r="8"/>
<line class="t" x1="1106.2" y1="841.5" x2="1141.2" y2="841.5"/>
<line class="t" x1="1123.7" y1="859" x2="1123.7" y2="824"/>
<path class="o" d="M1123.7,863.9 L1142.8,871.72 Q1151.39,876.62 1157.37,875.65"/>
<path class="o" d="M1123.7,819.1 L1142.8,811.28 Q1151.39,806.38 1157.37,807.35"/>
<circle class="ob" cx="1165.88" cy="943.32" r="22.4"/>
<polygon class="o3" points="1154.92,954.28 1169.89,958.3 1180.85,947.34 1176.84,932.36 1161.86,928.35 1150.9,939.31"/>
<circle class="o3" cx="1165.88" cy="943.32" r="11.5"/>
<circle class="o3" cx="1165.88" cy="943.32" r="8"/>
<line class="t" x1="1153.5" y1="955.7" x2="1178.25" y2="930.95"/>
<line class="t" x1="1150.32" y1="958.88" x2="1146.43" y2="962.77"/>
<line class="t" x1="1181.43" y1="927.77" x2="1185.32" y2="923.88"/>
<line class="t" x1="1178.25" y1="955.7" x2="1153.5" y2="930.95"/>
<line class="t" x1="1181.43" y1="958.88" x2="1185.32" y2="962.77"/>
<line class="t" x1="1150.32" y1="927.77" x2="1146.43" y2="923.88"/>
<path class="o" d="M1181.72,959.16 L1200.75,951.18 Q1210.29,948.58 1213.83,943.67"/>
<path class="o" d="M1150.04,927.48 L1158.02,908.45 Q1160.62,898.91 1165.53,895.37"/>
<circle class="ob" cx="1267.7" cy="985.5" r="22.4"/>
<polygon class="o3" points="1267.7,1001 1281.12,993.25 1281.12,977.75 1267.7,970 1254.28,977.75 1254.28,993.25"/>
<circle class="o3" cx="1267.7" cy="985.5" r="11.5"/>
<circle class="o3" cx="1267.7" cy="985.5" r="8"/>
<line class="t" x1="1267.7" y1="1003" x2="1267.7" y2="968"/>
<line class="t" x1="1285.2" y1="985.5" x2="1250.2" y2="985.5"/>
<path class="o" d="M1290.1,985.5 L1297.92,966.4 Q1302.82,957.81 1301.85,951.83"/>
<path class="o" d="M1245.3,985.5 L1237.48,966.4 Q1232.58,957.81 1233.55,951.83"/>
<circle class="ob" cx="1369.52" cy="943.32" r="22.4"/>
<polygon class="o3" points="1380.48,954.28 1384.5,939.31 1373.54,928.35 1358.56,932.36 1354.55,947.34 1365.51,958.3"/>
<circle class="o3" cx="1369.52" cy="943.32" r="11.5"/>
<circle class="o3" cx="1369.52" cy="943.32" r="8"/>
<line class="t" x1="1381.9" y1="955.7" x2="1357.15" y2="930.95"/>
<line class="t" x1="1385.08" y1="958.88" x2="1388.97" y2="962.77"/>
<line class="t" x1="1353.97" y1="927.77" x2="1350.08" y2="923.88"/>
<line class="t" x1="1381.9" y1="930.95" x2="1357.15" y2="955.7"/>
<line class="t" x1="1385.08" y1="927.77" x2="1388.97" y2="923.88"/>
<line class="t" x1="1353.97" y1="958.88" x2="1350.08" y2="962.77"/>
<path class="o" d="M1385.36,927.48 L1377.38,908.45 Q1374.78,898.91 1369.87,895.37"/>
<path class="o" d="M1353.68,959.16 L1334.65,951.18 Q1325.11,948.58 1321.57,943.67"/>
<path class="o" d="M1392.6,811.28 Q1387.8,791.75 1377.38,774.55"/>
<path class="o" d="M1334.65,731.82 Q1317.45,721.4 1297.92,716.6"/>
<path class="o" d="M1237.48,716.6 Q1217.95,721.4 1200.75,731.82"/>
<path class="o" d="M1158.02,774.55 Q1147.6,791.75 1142.8,811.28"/>
<path class="o" d="M1142.8,871.72 Q1147.6,891.25 1158.02,908.45"/>
<path class="o" d="M1200.75,951.18 Q1217.95,961.6 1237.48,966.4"/>
<path class="o" d="M1297.92,966.4 Q1317.45,961.6 1334.65,951.18"/>
<path class="o" d="M1377.38,908.45 Q1387.8,891.25 1392.6,871.72"/>
<polyline class="o" points="1151,903 1109,998 1109,1010 1169,1010 1190,957"/>
<polyline class="o" points="1109,998 1160,998 1176,966"/>
<line class="hs" x1="1125" y1="999.5" x2="1125" y2="1008.5"/>
<line class="hs" x1="1131" y1="999.5" x2="1131" y2="1008.5"/>
<line class="hs" x1="1139" y1="999.5" x2="1139" y2="1008.5"/>
<line class="hs" x1="1144" y1="999.5" x2="1144" y2="1008.5"/>
<path class="o1" d="M1160,896 Q1163,900 1157,915"/>
<polyline class="o" points="1384.4,903 1426.4,998 1426.4,1010 1366.4,1010 1345.4,957"/>
<polyline class="o" points="1426.4,998 1375.4,998 1359.4,966"/>
<line class="hs" x1="1410.4" y1="999.5" x2="1410.4" y2="1008.5"/>
<line class="hs" x1="1404.4" y1="999.5" x2="1404.4" y2="1008.5"/>
<line class="hs" x1="1396.4" y1="999.5" x2="1396.4" y2="1008.5"/>
<line class="hs" x1="1391.4" y1="999.5" x2="1391.4" y2="1008.5"/>
<path class="o1" d="M1375.4,896 Q1372.4,900 1378.4,915"/>
<line class="t" x1="1109" y1="1010" x2="1109" y2="1155"/>
<line class="t" x1="1169" y1="1010" x2="1169" y2="1119"/>
<line class="t" x1="1125" y1="1000" x2="1125" y2="1046"/>
<line class="t" x1="1144" y1="1000" x2="1144" y2="1046"/>
<line class="t" x1="1135" y1="993" x2="1135" y2="1083"/>
<line class="t" x1="1097" y1="1045" x2="1124" y2="1045"/>
<polygon class="ar" points="1124.5,1045 1112.3,1040.4 1113.52,1045 1112.3,1049.6"/>
<line class="t" x1="1145" y1="1045" x2="1172" y2="1045"/>
<polygon class="ar" points="1144.5,1045 1156.7,1040.4 1155.48,1045 1156.7,1049.6"/>
<line class="t" x1="1082" y1="1118" x2="1108" y2="1118"/>
<polygon class="ar" points="1108.5,1118 1096.3,1113.4 1097.52,1118 1096.3,1122.6"/>
<line class="t" x1="1170" y1="1118" x2="1196" y2="1118"/>
<polygon class="ar" points="1169.5,1118 1181.7,1113.4 1180.48,1118 1181.7,1122.6"/>
<line class="t" x1="1426.4" y1="1010" x2="1426.4" y2="1155"/>
<line class="t" x1="1366.4" y1="1010" x2="1366.4" y2="1119"/>
<line class="t" x1="1410.4" y1="1000" x2="1410.4" y2="1046"/>
<line class="t" x1="1391.4" y1="1000" x2="1391.4" y2="1046"/>
<line class="t" x1="1400.4" y1="993" x2="1400.4" y2="1083"/>
<line class="t" x1="1438.4" y1="1045" x2="1411.4" y2="1045"/>
<polygon class="ar" points="1410.9,1045 1423.1,1040.4 1421.88,1045 1423.1,1049.6"/>
<line class="t" x1="1390.4" y1="1045" x2="1363.4" y2="1045"/>
<polygon class="ar" points="1390.9,1045 1378.7,1040.4 1379.92,1045 1378.7,1049.6"/>
<line class="t" x1="1453.4" y1="1118" x2="1427.4" y2="1118"/>
<polygon class="ar" points="1426.9,1118 1439.1,1113.4 1437.88,1118 1439.1,1122.6"/>
<line class="t" x1="1365.4" y1="1118" x2="1339.4" y2="1118"/>
<polygon class="ar" points="1365.9,1118 1353.7,1113.4 1354.92,1118 1353.7,1122.6"/>
<text class="tx" x="1083.5" y="1037" text-anchor="middle">ø15</text>
<text class="tx" x="1450" y="1037" text-anchor="middle">ø15</text>
<text class="tx" x="1137.5" y="1126" text-anchor="middle">60</text>
<text class="tx" x="1397.5" y="1126" text-anchor="middle">60</text>
<line class="t" x1="1136" y1="1082" x2="1246" y2="1082"/>
<line class="t" x1="1289" y1="1082" x2="1399" y2="1082"/>
<polygon class="ar" points="1135.5,1082 1147.7,1077.4 1146.48,1082 1147.7,1086.6"/>
<polygon class="ar" points="1399.5,1082 1387.3,1077.4 1388.52,1082 1387.3,1086.6"/>
<text class="tx" x="1267.5" y="1088" text-anchor="middle">230</text>
<line class="t" x1="1110" y1="1153" x2="1246" y2="1153"/>
<line class="t" x1="1289" y1="1153" x2="1425" y2="1153"/>
<polygon class="ar" points="1109.5,1153 1121.7,1148.4 1120.48,1153 1121.7,1157.6"/>
<polygon class="ar" points="1425.5,1153 1413.3,1148.4 1414.52,1153 1413.3,1157.6"/>
<text class="tx" x="1267.5" y="1159.5" text-anchor="middle">280</text>
<path class="pers" d="M276.3,542.3 Q279.5,543 279.6,548 L280.2,560.5 M286,542.5 Q288,545 288.1,550 L288.3,560.5 M288.1,548.5 Q292.5,549.5 295.4,541.8 M269.1,1144.3 Q271.3,1147 271.3,1152 L271.5,1162.3 M271.3,1150.3 Q276,1151 278.8,1143.8 M283.6,1144.3 Q285.8,1147 285.8,1152 L286,1162.3 M285.8,1150.3 Q290.5,1151 293.3,1143.8"/>
<circle cx="301.9" cy="1155" r="3.4" fill="none" stroke="#000" stroke-width="2.6"/>
<path d="M300.6,560 L307.2,543 L312.6,560" fill="none" stroke="#000" stroke-width="3.8" stroke-linejoin="bevel"/>
<defs>
<linearGradient id="gOr" x1="0" y1="0" x2="0" y2="1"><stop offset="0" stop-color="#f9be10"/><stop offset="1" stop-color="#eea61f"/></linearGradient>
<linearGradient id="gBl" x1="0" y1="0" x2="1" y2="1"><stop offset="0" stop-color="#3aaae6"/><stop offset="0.6" stop-color="#1a8fd8"/><stop offset="1" stop-color="#229ee0"/></linearGradient>
<linearGradient id="gW" x1="0" y1="0" x2="0.5" y2="1"><stop offset="0" stop-color="#ffffff" stop-opacity="0.92"/><stop offset="0.35" stop-color="#ffffff" stop-opacity="0.55"/><stop offset="0.8" stop-color="#ffffff" stop-opacity="0"/></linearGradient>
</defs>
<path fill="url(#gBl)" d="M38,54 L68,32 L107.4,98.4 L118.2,76.8 C121,70 127,62 135,59 C142,57 149,60 154,66.5 C147,68 142,74 139,82 C134,96 131,112 127,130 C123,148 118,158 103,159.5 C95,160 91,156 87.5,150 Z"/>
<path fill="#3eb0ee" opacity="0.55" d="M80.4,137.5 C90,141 104,139 114,130 C124,120 130,106 133.8,92 C131.5,104 129.5,118 127,130 C123,148 118,158 103,159.5 C95,160 91,156 87.5,150 Z"/>
<path fill="url(#gW)" d="M37,55 L68.5,31.5 L107.4,98.4 L72,120 Z"/>
<path fill="#ffffff" d="M37,55 L42,50.5 L37.5,54 Z M41,51 L45,47 L44,48 Z"/>
<path fill="#1c8fd6" d="M48,72 L107.4,98.4 L118.2,76.8 C121,70 127,62 135,59 C140,58 146,60 150,63 C140,64 133,72 129,84 C122,104 118,124 111,134 C104,142 90,143 82,140 Z" opacity="0.55"/>
<line x1="40.4" y1="51.2" x2="69.6" y2="107.4" stroke="#ffffff" stroke-width="1.4" stroke-linecap="round"/>
<line x1="45.8" y1="45.8" x2="75.9" y2="103.8" stroke="#ffffff" stroke-width="1.4" stroke-linecap="round"/>
<line x1="52" y1="41.7" x2="82.2" y2="98.4" stroke="#ffffff" stroke-width="1.4" stroke-linecap="round"/>
<line x1="58.4" y1="38.1" x2="88.5" y2="93" stroke="#ffffff" stroke-width="1.4" stroke-linecap="round"/>
<line x1="64.7" y1="34.5" x2="93" y2="88.5" stroke="#ffffff" stroke-width="1.4" stroke-linecap="round"/>
<circle cx="139.4" cy="65.1" r="2.3" fill="#c8f0ff"/>
<rect x="138.8" y="123.6" width="7.9" height="34" fill="#1f98d8"/>
<circle cx="142.8" cy="114.8" r="4.6" fill="#1f98d8"/>
<circle cx="167.5" cy="140.8" r="14.6" fill="none" stroke="#1f98d8" stroke-width="7.3"/>
<rect x="181.3" y="106.3" width="6.4" height="52" fill="#1f98d8"/>
<g fill="none" stroke="#f2ae17" stroke-width="7.2"><path d="M196.4,158 L196.4,126 C196.4,115 203,110 211,110 C215,110 218,111.5 220.5,114.5"/><path d="M199,127.7 L211.5,127.7"/><circle cx="232" cy="141.5" r="14.3"/><path d="M246.5,127 L246.5,158"/><path d="M280.5,130.6 A14,14 0 1 0 280.5,152"/><path d="M290.7,111.7 L290.7,158"/><path d="M290.7,127.7 L304,127.7"/><circle cx="325.3" cy="141.5" r="14.2"/><path d="M350.7,158 L350.7,145 C350.7,133 357,126 369.5,126"/></g>
</svg></body></html>
